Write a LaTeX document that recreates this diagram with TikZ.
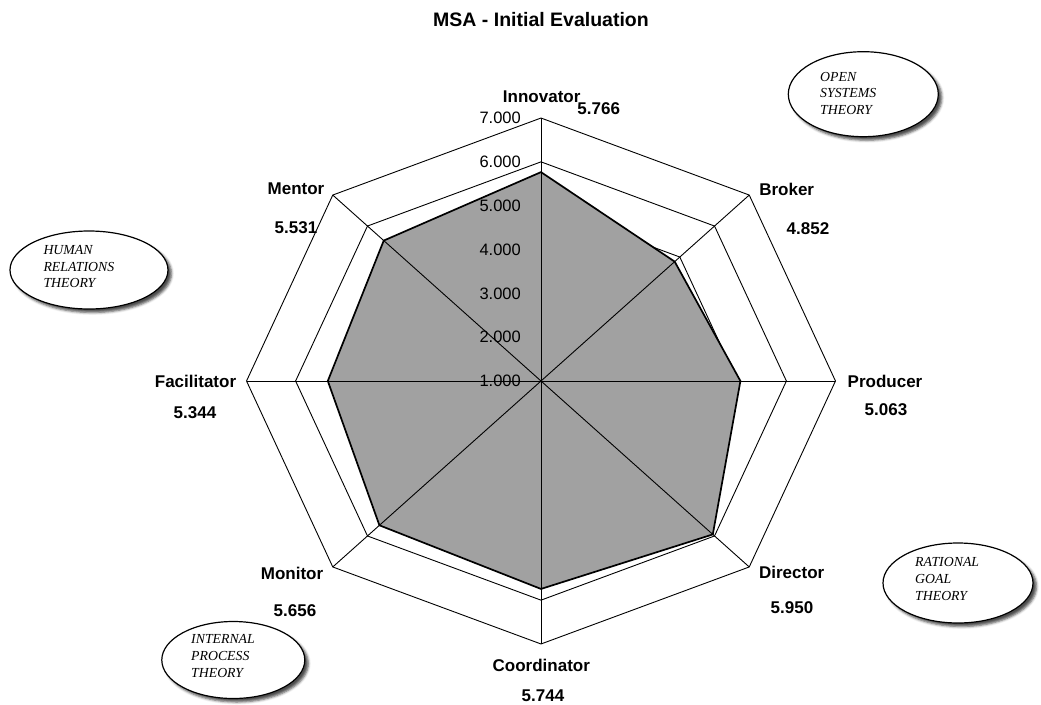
\documentclass[tikz,border=0pt]{standalone}
\usepackage{fontspec}
\setmainfont{Liberation Sans}
\newfontfamily\theoryfont{Liberation Serif}
\usetikzlibrary{shapes.geometric,shadows.blur}

\begin{document}
\begin{tikzpicture}[x=1pt,y=-1pt,
  titlelabel/.style={font=\fontsize{19.5}{22}\selectfont\bfseries, inner sep=0pt},
  catlabel/.style={font=\fontsize{17}{20}\selectfont\bfseries, inner sep=0pt},
  vallabel/.style={font=\fontsize{17}{20}\selectfont\bfseries, inner sep=0pt},
  ticklabel/.style={font=\fontsize{16.5}{20}\selectfont, inner sep=0pt, anchor=east},
  gridline/.style={draw=black, line width=0.9pt, line join=miter},
  spoke/.style={draw=black, line width=0.9pt},
  datafill/.style={fill=black!37},
  dataline/.style={draw=black, line width=1.7pt, line join=miter},
  theory/.style={ellipse, draw=black, line width=1.2pt, fill=white, inner sep=0pt,
    blur shadow={shadow xshift=3.5pt, shadow yshift=-3.5pt,
                 shadow blur radius=2.5pt, shadow opacity=70}},
  theorytext/.style={font=\theoryfont\itshape\fontsize{13.8}{16.6}\selectfont,
    align=left, anchor=west, inner sep=0pt}
]
\useasboundingbox (0,0) rectangle (1041,704);

% title
\node[titlelabel] (title) at (541,20) {MSA - Initial Evaluation};

% radar grid, data polygon and spokes
\begin{scope}[shift={(541,381)}, x=49.08pt, y=43.83pt]
  \coordinate (c) at (0,0);
  \foreach \a/\n in {90/inn,45/bro,0/pro,-45/dir,-90/coo,-135/mon,180/fac,135/men}
    \coordinate (v-\n) at ({6*cos(\a)},{6*sin(\a)});
  % rings at 2 ... 7
  \foreach \r in {1,...,6}
    \draw[gridline] (90:\r) \foreach \a in {45,0,-45,-90,-135,180,135} { -- ({\r*cos(\a)},{\r*sin(\a)}) } -- cycle;
  % data values
  \coordinate (d-inn) at ({4.766*cos(90)},{4.766*sin(90)});
  \coordinate (d-bro) at ({3.852*cos(45)},{3.852*sin(45)});
  \coordinate (d-pro) at ({4.063*cos(0)},{4.063*sin(0)});
  \coordinate (d-dir) at ({4.950*cos(-45)},{4.950*sin(-45)});
  \coordinate (d-coo) at ({4.744*cos(-90)},{4.744*sin(-90)});
  \coordinate (d-mon) at ({4.656*cos(-135)},{4.656*sin(-135)});
  \coordinate (d-fac) at ({4.344*cos(180)},{4.344*sin(180)});
  \coordinate (d-men) at ({4.531*cos(135)},{4.531*sin(135)});
  \path[datafill] (d-inn) -- (d-bro) -- (d-pro) -- (d-dir) -- (d-coo) -- (d-mon) -- (d-fac) -- (d-men) -- cycle;
  \foreach \n in {inn,bro,pro,dir,coo,mon,fac,men}
    \draw[spoke] (c) -- (v-\n);
  \draw[dataline] (d-inn) -- (d-bro) -- (d-pro) -- (d-dir) -- (d-coo) -- (d-mon) -- (d-fac) -- (d-men) -- cycle;
\end{scope}

% value axis
\foreach \v [evaluate=\v as \yy using {381-(\v-1)*43.83}] in {1,...,7}
  \node[ticklabel] (tick\v) at (521,\yy) {\v.000};

% category names and values
\node[catlabel] (innovator) at (541.7,96.5) {Innovator};
\node[vallabel] (innovatorv) at (598.7,108.7) {5.766};
\node[catlabel] (broker) at (786.7,189.5) {Broker};
\node[vallabel] (brokerv) at (808,229) {4.852};
\node[catlabel] (producer) at (885,381) {Producer};
\node[vallabel] (producerv) at (886,410) {5.063};
\node[catlabel] (director) at (791.7,572.5) {Director};
\node[vallabel] (directorv) at (792,608) {5.950};
\node[catlabel] (coordinator) at (541.3,665.5) {Coordinator};
\node[vallabel] (coordinatorv) at (543,696) {5.744};
\node[catlabel] (monitor) at (292,573) {Monitor};
\node[vallabel] (monitorv) at (295,610.5) {5.656};
\node[catlabel] (facilitator) at (195.5,381) {Facilitator};
\node[vallabel] (facilitatorv) at (195,413) {5.344};
\node[catlabel] (mentor) at (296,189) {Mentor};
\node[vallabel] (mentorv) at (296,228) {5.531};

% theory callouts
\node[theory, minimum width=150pt, minimum height=85pt] (open) at (863.3,94.2) {};
\node[theorytext] (opent) at (820,93.3) {OPEN\\SYSTEMS\\THEORY};
\node[theory, minimum width=158pt, minimum height=78pt] (human) at (89,270) {};
\node[theorytext] (humant) at (43.3,266.7) {HUMAN\\RELATIONS\\THEORY};
\node[theory, minimum width=150pt, minimum height=80pt] (rational) at (958,583) {};
\node[theorytext] (rationalt) at (915,579) {RATIONAL\\GOAL\\THEORY};
\node[theory, minimum width=143pt, minimum height=77pt] (internal) at (233.3,660) {};
\node[theorytext] (internalt) at (191,656) {INTERNAL\\PROCESS\\THEORY};
\end{tikzpicture}
\end{document}
